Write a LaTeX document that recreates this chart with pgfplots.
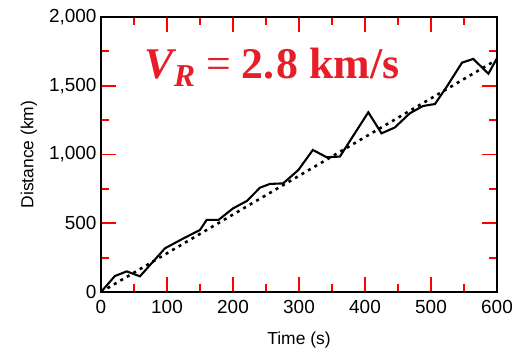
\documentclass[border=0pt]{standalone}
\usepackage{pgfplots}
\pgfplotsset{compat=1.18}
\usepackage{fontspec}
\setmainfont{Liberation Sans}
\newfontfamily\timesfont{Liberation Serif}
\definecolor{vred}{RGB}{230,30,40}
\begin{document}
\begin{tikzpicture}
\begin{axis}[
  scale only axis,
  width=396bp, height=275bp,
  xmin=0, xmax=600, ymin=0, ymax=2000,
  xtick={0,100,...,600}, ytick={0,500,...,2000},
  minor xtick={50,150,...,550}, minor ytick={250,750,...,1750},
  tick align=inside,
  major tick length=15bp, minor tick length=8bp,
  tick style={red, line width=2pt},
  axis line style={line width=1.3pt},
  /pgf/number format/assume math mode=true,
  /pgf/number format/1000 sep={,},
  scaled y ticks=false,
  tick label style={font=\fontsize{19}{20}\selectfont},
  label style={font=\fontsize{17.5}{19}\selectfont},
  xlabel={Time (s)}, ylabel={Distance (km)},
  xlabel style={at={(axis description cs:0.5,-0.175)},anchor=center},
  ylabel style={at={(axis description cs:-0.182,0.5)},anchor=center},
  xticklabel style={yshift=-5bp},
  yticklabel style={xshift=-1bp},
]
\addplot[black, line width=2.1pt, line join=miter] coordinates {
(0,0) (21,116) (39,150) (59,114) (97,318) (125,390) (150,451) (160,524) (178,524)
(200,608) (221,662) (241,759) (256,786) (276,790) (299,887) (321,1033) (342,980)
(362,985) (405,1307) (425,1154) (445,1196) (468,1300) (488,1353) (506,1367)
(524,1494) (547,1668) (564,1695) (587,1588) (600,1700)
};
\addplot[black, line width=2.6pt, dash pattern=on 3bp off 4.5bp] coordinates {
(0,0) (600,1690)
};
\node[anchor=base west, inner sep=0pt, text=vred, font=\timesfont\fontsize{44}{44}\selectfont\bfseries]
  at (axis cs:66,1556) {\itshape V\raisebox{-8bp}{\fontsize{32}{32}\selectfont R}\upshape\ {\mdseries=} 2.\kern2bp8 km/s};
\end{axis}
\pgfresetboundingbox
\path (-101bp,-62bp) rectangle (424bp,292bp);
\end{tikzpicture}
\end{document}
